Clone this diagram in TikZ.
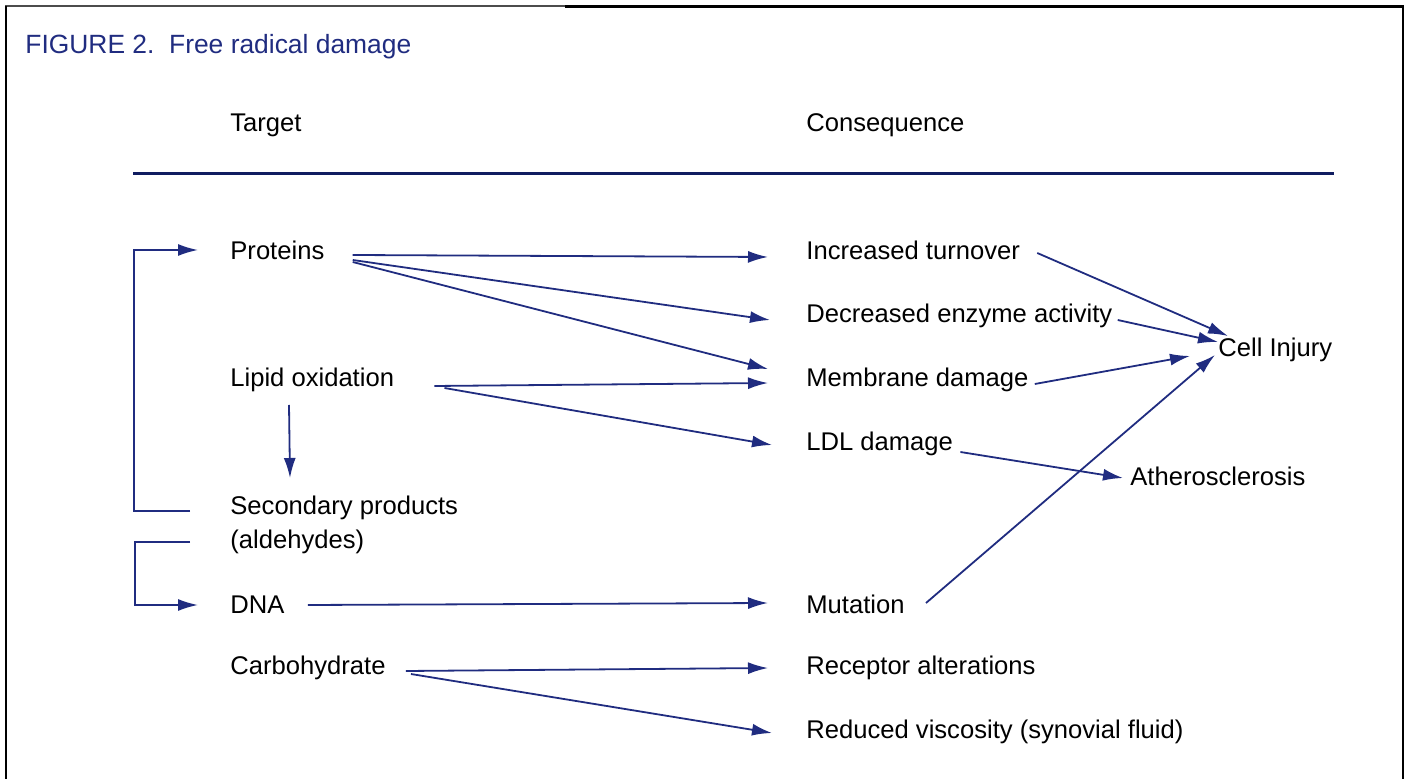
\documentclass[tikz,border=0pt]{standalone}
\usepackage{fontspec}
\setmainfont{Liberation Sans}
\usepackage{xcolor}
\usetikzlibrary{arrows.meta}
\definecolor{navy}{RGB}{32,44,128}
\definecolor{rulenavy}{RGB}{16,28,96}
\tikzset{itemtext/.style={anchor=west,inner sep=0pt,font=\fontsize{12.8}{17}\selectfont},
  link/.style={->,draw=navy,line width=0.9pt}}

\begin{document}
\begin{tikzpicture}[x=0.5pt,y=-0.5pt,>={Latex[length=10pt,width=6pt]}]
    \useasboundingbox (0,0) rectangle (1407,779);
    % frame
    \draw[black!70,line width=0.6pt] (5,6) -- (565,6);
    \draw[black,line width=1.4pt] (565,6.5) -- (1403,6.5) -- (1403,779);
    \draw[black,line width=1.4pt] (6,6) -- (6,779);

    \node[itemtext,text=navy,font=\fontsize{13.2}{16}\selectfont] (title) at (25,47) {FIGURE 2.\ \ Free radical damage};
    \node[itemtext] (target) at (230,125) {Target};
    \node[itemtext] (conseq) at (806,125) {Consequence};
    \draw[rulenavy,line width=1.5pt] (133,174) -- (1334,174);

    % targets
    \node[itemtext] (prot) at (230,250) {Proteins};
    \node[itemtext] (lipid) at (230,380) {Lipid oxidation};
    \node[itemtext,align=left] (sec) at (230,525) {Secondary products\\(aldehydes)};
    \node[itemtext] (dna) at (230,605) {DNA};
    \node[itemtext] (carb) at (230,668) {Carbohydrate};

    % consequences
    \node[itemtext] (inc) at (806,250) {Increased turnover};
    \node[itemtext] (dec) at (806,316) {Decreased enzyme activity};
    \node[itemtext] (mem) at (806,380) {Membrane damage};
    \node[itemtext] (ldl) at (806,444) {LDL damage};
    \node[itemtext] (mut) at (806,604) {Mutation};
    \node[itemtext] (rec) at (806,668) {Receptor alterations};
    \node[itemtext] (red) at (806,732) {Reduced viscosity (synovial fluid)};
    \node[itemtext] (cell) at (1218,350) {Cell Injury};
    \node[itemtext] (ath) at (1130,476) {Atherosclerosis};

    % feedback brackets
    \draw[link] ([xshift=-20pt,yshift=7pt]sec.west) -| ([xshift=-48pt]prot.west) -- ([xshift=-16pt]prot.west);
    \draw[link] ([xshift=-20pt,yshift=-8.5pt]sec.west) -| ([xshift=-47.5pt]dna.west) -- ([xshift=-16pt]dna.west);
    \draw[link] ([xshift=29.5pt,yshift=-12.5pt]lipid.west) -- ([xshift=30pt,yshift=23.5pt]sec.west);

    \draw[link] ([xshift=14pt,yshift=-2.5pt]prot.east) -- ([xshift=-19pt,yshift=-3.5pt]inc.west);
    \draw[link] ([xshift=14pt,yshift=-5pt]prot.east) -- ([xshift=-18pt,yshift=-2pt]dec.west);
    \draw[link] ([xshift=14pt,yshift=-6pt]prot.east) -- ([xshift=-19pt,yshift=5.5pt]mem.west);
    \draw[link] ([xshift=20pt,yshift=-3pt]lipid.east) -- ([xshift=-19pt,yshift=-1.5pt]mem.west);
    \draw[link] ([xshift=25pt,yshift=-4pt]lipid.east) -- ([xshift=-17pt,yshift=-0.5pt]ldl.west);
    \draw[link] ([xshift=11.5pt]dna.east) -- ([xshift=-19pt,yshift=0.5pt]mut.west);
    \draw[link] ([xshift=10pt,yshift=-1.5pt]carb.east) -- ([xshift=-19pt]rec.west);
    \draw[link] ([xshift=12.5pt,yshift=-3pt]carb.east) -- ([xshift=-17pt,yshift=-0.5pt]red.west);

    \draw[link] ([xshift=8.5pt,yshift=-1.5pt]inc.east) -- ([xshift=5pt,yshift=7pt]cell.west);
    \draw[link] ([xshift=2.5pt,yshift=-2pt]dec.east) -- ([yshift=4pt]cell.west);
    \draw[link] ([xshift=3pt,yshift=-2pt]mem.east) -- ([xshift=-14pt,yshift=-3pt]cell.west);
    \draw[link] ([xshift=10.5pt,yshift=0.5pt]mut.east) -- ([xshift=-1.5pt,yshift=-2.5pt]cell.west);
    \draw[link] ([xshift=3.5pt,yshift=-4pt]ldl.east) -- ([xshift=-3.5pt,yshift=-1pt]ath.west);
  \end{tikzpicture}
\end{document}
